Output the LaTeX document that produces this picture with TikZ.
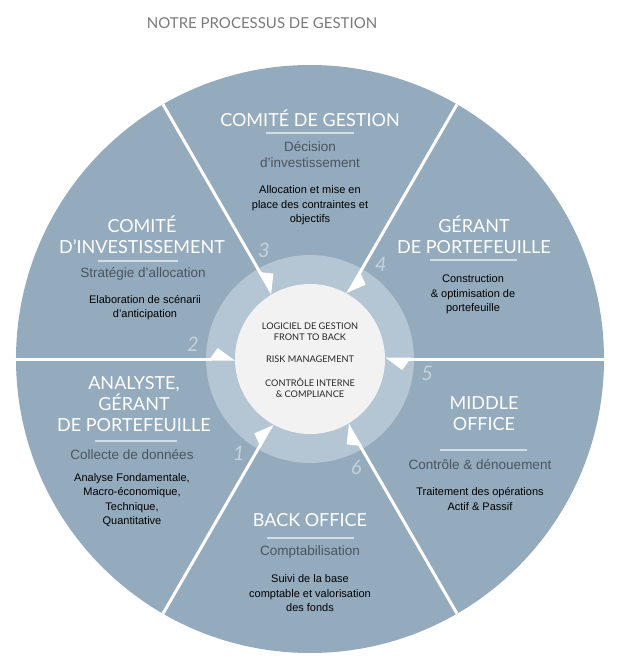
\documentclass[tikz,border=0pt]{standalone}
\usepackage{fontspec}
\setmainfont{Liberation Sans}
\newfontfamily\headfont{Lato}
\usetikzlibrary{arrows.meta}
\definecolor{csector}{HTML}{94AABD}
\definecolor{cring}{HTML}{B4C5D3}
\definecolor{ccore}{HTML}{F2F2F2}
\definecolor{csub}{HTML}{4B5560}
\definecolor{cnum}{HTML}{C4D2DD}
\definecolor{cbar}{HTML}{D3DDE5}
\definecolor{chead}{HTML}{7A7A7A}
\tikzset{
  every picture/.style={x=1pt, y=1pt},
  stage/.style={font=\headfont\fontsize{18}{21}\selectfont, text=white, align=center, inner sep=0pt},
  sub/.style={font=\fontsize{13.5}{16}\selectfont, text=csub, align=center, inner sep=0pt},
  body/.style={font=\fontsize{11}{14.5}\selectfont, text=black, align=center, inner sep=0pt},
  coretext/.style={font=\headfont\fontsize{9.2}{11}\selectfont, text=black!85, align=center, inner sep=0pt},
  bar/.style={draw=cbar, line width=1.2pt},
  divider/.style={draw=white, line width=3pt, -{Kite[harpoon, length=23pt, width=22pt, inset=8pt]}},
  num/.style={font=\headfont\itshape\fontsize{20}{20}\selectfont, text=cnum},
}

\begin{document}
\begin{tikzpicture}
  \useasboundingbox (-310,-308) rectangle (308,359);
  \node[font=\headfont\fontsize{15}{18}\selectfont, text=chead] (title) at (-48,336) {NOTRE PROCESSUS DE GESTION};
  % disc, ring and core
  \fill[csector] (0,0) circle (294);
  \fill[cring] (0,0) circle (104);
  \node[circle, fill=ccore, minimum size=150pt, inner sep=0pt] (core) at (0,0) {};
  \foreach \i [evaluate=\i as \a using 300-60*\i] in {1,...,6} {
    \coordinate (o\i) at (\a:294);
    \draw[divider] (o\i) -- (core);
    \node[num] (n\i) at (\a-7:118) {\i};
  }
  \node[coretext] (soft) at (0,27.5) {LOGICIEL DE GESTION\\FRONT TO BACK};
  \node[coretext] (risk) at (0,0) {RISK MANAGEMENT};
  \node[coretext] (ctrl) at (0,-28.5) {CONTRÔLE INTERNE\\\& COMPLIANCE};
  % comite de gestion
  \node[stage] (cg) at (0,241) {COMITÉ DE GESTION};
  \draw[bar] (-44,226) -- (44,226);
  \node[sub] (cg-s) at (0,204) {Décision\\d’investissement};
  \node[body] (cg-b) at (0,153.5) {Allocation et mise en\\place des contraintes et\\objectifs};
  % comite d'investissement
  \node[stage] (ci) at (-168,124) {COMITÉ\\D’INVESTISSEMENT};
  \draw[bar] (-212,98) -- (-132,98);
  \node[sub] (ci-s) at (-167,85) {Stratégie d’allocation};
  \node[body] (ci-b) at (-165,51.5) {Elaboration de scénarii\\d’anticipation};
  % gerant
  \node[stage] (gp) at (164,124) {GÉRANT\\DE PORTEFEUILLE};
  \draw[bar] (120,99) -- (207,99);
  \node[body] (gp-b) at (163,64.5) {Construction\\\& optimisation de\\portefeuille};
  % analyste
  \node[stage] (an) at (-176,-45) {ANALYSTE,\\GÉRANT\\DE PORTEFEUILLE};
  \draw[bar] (-215,-82) -- (-133,-82);
  \node[sub] (an-s) at (-178,-96) {Collecte de données};
  \node[body] (an-b) at (-178,-141) {Analyse Fondamentale,\\Macro-économique,\\Technique,\\Quantitative};
  % middle office
  \node[stage] (mo) at (174,-54.5) {MIDDLE\\OFFICE};
  \draw[bar] (130,-91) -- (217,-91);
  \node[sub] (mo-s) at (170,-106) {Contrôle \& dénouement};
  \node[body] (mo-b) at (170,-140) {Traitement des opérations\\Actif \& Passif};
  % back office
  \node[stage] (bo) at (0,-161) {BACK OFFICE};
  \draw[bar] (-43,-179) -- (44,-179);
  \node[sub] (bo-s) at (0,-193) {Comptabilisation};
  \node[body] (bo-b) at (0,-234.5) {Suivi de la base\\comptable et valorisation\\des fonds};
\end{tikzpicture}
\end{document}
